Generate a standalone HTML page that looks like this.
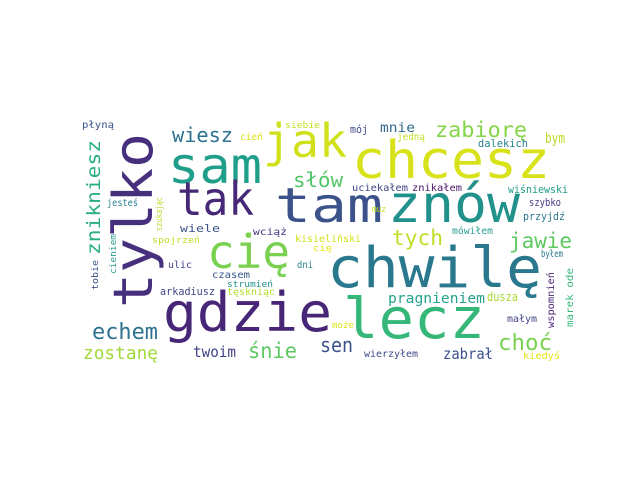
<!DOCTYPE html>
<html><head><meta charset="utf-8"><style>
html,body{margin:0;padding:0;background:#fff;width:640px;height:480px;overflow:hidden}
svg text{font-family:"DejaVu Sans Mono","Liberation Mono",monospace}
</style></head><body>
<svg width="640" height="480" viewBox="0 0 640 480" xmlns="http://www.w3.org/2000/svg">
<rect width="640" height="480" fill="#fff"/>
<text x="168" y="183" font-size="50" textLength="94" lengthAdjust="spacingAndGlyphs" fill="#1f9e89">sam</text>
<text x="263" y="157" font-size="46" textLength="84" lengthAdjust="spacingAndGlyphs" fill="#d0e11c">jak</text>
<text x="352" y="178" font-size="52" textLength="198" lengthAdjust="spacingAndGlyphs" fill="#d8e219">chcesz</text>
<text x="177" y="215" font-size="46" textLength="77" lengthAdjust="spacingAndGlyphs" fill="#472777">tak</text>
<text x="275" y="222" font-size="48" textLength="108" lengthAdjust="spacingAndGlyphs" fill="#3b528b">tam</text>
<text x="388" y="222" font-size="52" textLength="132" lengthAdjust="spacingAndGlyphs" fill="#21918c">znów</text>
<text x="327" y="287" font-size="56" textLength="215" lengthAdjust="spacingAndGlyphs" fill="#2a788e">chwilę</text>
<text x="207" y="268" font-size="46" textLength="83" lengthAdjust="spacingAndGlyphs" fill="#7ad151">cię</text>
<text x="163" y="331" font-size="54" textLength="169" lengthAdjust="spacingAndGlyphs" fill="#482677">gdzie</text>
<text x="343" y="338" font-size="56" textLength="142" lengthAdjust="spacingAndGlyphs" fill="#35b779">lecz</text>
<text x="172" y="142" font-size="20" textLength="61" lengthAdjust="spacingAndGlyphs" fill="#2c728e">wiesz</text>
<text x="435" y="137" font-size="21" textLength="92" lengthAdjust="spacingAndGlyphs" fill="#86d549">zabiorę</text>
<text x="293" y="187" font-size="20" textLength="50" lengthAdjust="spacingAndGlyphs" fill="#52c569">słów</text>
<text x="392" y="245" font-size="21" textLength="51" lengthAdjust="spacingAndGlyphs" fill="#bddf26">tych</text>
<text x="509" y="248" font-size="21" textLength="63" lengthAdjust="spacingAndGlyphs" fill="#5ec962">jawie</text>
<text x="92" y="339" font-size="22" textLength="66" lengthAdjust="spacingAndGlyphs" fill="#2c728e">echem</text>
<text x="83" y="359" font-size="18" textLength="75" lengthAdjust="spacingAndGlyphs" fill="#a0da39">zostanę</text>
<text x="248" y="358" font-size="21" textLength="49" lengthAdjust="spacingAndGlyphs" fill="#5ec962">śnie</text>
<text x="320" y="352" font-size="20" textLength="33" lengthAdjust="spacingAndGlyphs" fill="#3b528b">sen</text>
<text x="193" y="357" font-size="15" textLength="43" lengthAdjust="spacingAndGlyphs" fill="#414487">twoim</text>
<text x="498" y="350" font-size="22" textLength="54" lengthAdjust="spacingAndGlyphs" fill="#7ad151">choć</text>
<text x="443" y="359" font-size="15" textLength="50" lengthAdjust="spacingAndGlyphs" fill="#3b528b">zabrał</text>
<text x="388" y="303" font-size="14" textLength="97" lengthAdjust="spacingAndGlyphs" fill="#25a18e">pragnieniem</text>
<text x="487" y="301" font-size="12" textLength="31" lengthAdjust="spacingAndGlyphs" fill="#a8db34">dusza</text>
<text x="380" y="132" font-size="13" textLength="35" lengthAdjust="spacingAndGlyphs" fill="#31688e">mnie</text>
<text x="350" y="133" font-size="11" textLength="18" lengthAdjust="spacingAndGlyphs" fill="#3e4a89">mój</text>
<text x="397" y="140" font-size="10" textLength="28" lengthAdjust="spacingAndGlyphs" fill="#c2df23">jedną</text>
<text x="545" y="143" font-size="14" textLength="20" lengthAdjust="spacingAndGlyphs" fill="#bddf26">bym</text>
<text x="478" y="147" font-size="11" textLength="50" lengthAdjust="spacingAndGlyphs" fill="#26828e">dalekich</text>
<text x="508" y="193" font-size="11" textLength="60" lengthAdjust="spacingAndGlyphs" fill="#1f9e89">wiśniewski</text>
<text x="352" y="191" font-size="10" textLength="56" lengthAdjust="spacingAndGlyphs" fill="#414487">uciekałem</text>
<text x="412" y="191" font-size="10" textLength="50" lengthAdjust="spacingAndGlyphs" fill="#481467">znikałem</text>
<text x="529" y="206" font-size="11" textLength="32" lengthAdjust="spacingAndGlyphs" fill="#433e85">szybko</text>
<text x="523" y="220" font-size="11" textLength="42" lengthAdjust="spacingAndGlyphs" fill="#2a788e">przyjdź</text>
<text x="372" y="212" font-size="9" textLength="14" lengthAdjust="spacingAndGlyphs" fill="#c8e020">muz</text>
<text x="452" y="234" font-size="10" textLength="41" lengthAdjust="spacingAndGlyphs" fill="#2a9d8f">mówiłem</text>
<text x="295" y="242" font-size="10" textLength="66" lengthAdjust="spacingAndGlyphs" fill="#d2e21b">kisieliński</text>
<text x="313" y="251" font-size="9" textLength="19" lengthAdjust="spacingAndGlyphs" fill="#e2e418">cię</text>
<text x="541" y="257" font-size="10" textLength="22" lengthAdjust="spacingAndGlyphs" fill="#29798e">byłem</text>
<text x="507" y="322" font-size="10" textLength="30" lengthAdjust="spacingAndGlyphs" fill="#414487">małym</text>
<text x="523" y="359" font-size="10" textLength="37" lengthAdjust="spacingAndGlyphs" fill="#e5e419">kiedyś</text>
<text x="364" y="357" font-size="10" textLength="54" lengthAdjust="spacingAndGlyphs" fill="#3e4a89">wierzyłem</text>
<text x="332" y="328" font-size="9" textLength="22" lengthAdjust="spacingAndGlyphs" fill="#dde318">może</text>
<text x="82" y="128" font-size="10" textLength="32" lengthAdjust="spacingAndGlyphs" fill="#3b528b">płyną</text>
<text x="240" y="140" font-size="10" textLength="23" lengthAdjust="spacingAndGlyphs" fill="#d8e219">cień</text>
<text x="285" y="128" font-size="9" textLength="35" lengthAdjust="spacingAndGlyphs" fill="#c0df25">siebie</text>
<text x="107" y="206" font-size="10" textLength="31" lengthAdjust="spacingAndGlyphs" fill="#26828e">jesteś</text>
<text x="180" y="232" font-size="11" textLength="40" lengthAdjust="spacingAndGlyphs" fill="#3b528b">wiele</text>
<text x="152" y="243" font-size="9" textLength="48" lengthAdjust="spacingAndGlyphs" fill="#bddf26">spojrzeń</text>
<text x="253" y="235" font-size="10" textLength="34" lengthAdjust="spacingAndGlyphs" fill="#46327e">wciąż</text>
<text x="168" y="268" font-size="10" textLength="24" lengthAdjust="spacingAndGlyphs" fill="#414487">ulic</text>
<text x="297" y="268" font-size="10" textLength="16" lengthAdjust="spacingAndGlyphs" fill="#25848e">dni</text>
<text x="212" y="278" font-size="10" textLength="38" lengthAdjust="spacingAndGlyphs" fill="#38588c">czasem</text>
<text x="227" y="287" font-size="9" textLength="46" lengthAdjust="spacingAndGlyphs" fill="#21918c">strumień</text>
<text x="160" y="295" font-size="11" textLength="55" lengthAdjust="spacingAndGlyphs" fill="#414487">arkadiusz</text>
<text x="227" y="295" font-size="10" textLength="48" lengthAdjust="spacingAndGlyphs" fill="#b5de2b">tęskniąc</text>
<text transform="translate(152,308) rotate(-90)" font-size="54" textLength="175" lengthAdjust="spacingAndGlyphs" fill="#46307e">tylko</text>
<text transform="translate(100,255) rotate(-90)" font-size="19" textLength="115" lengthAdjust="spacingAndGlyphs" fill="#29af7f">znikniesz</text>
<text transform="translate(162,231) rotate(-90)" font-size="9" textLength="34" lengthAdjust="spacingAndGlyphs" fill="#b5de2b">szukając</text>
<text transform="translate(116,274) rotate(-90)" font-size="9" textLength="40" lengthAdjust="spacingAndGlyphs" fill="#2a9d8f">cieniem</text>
<text transform="translate(98,290) rotate(-90)" font-size="9" textLength="30" lengthAdjust="spacingAndGlyphs" fill="#3b528b">tobie</text>
<text transform="translate(554,328) rotate(-90)" font-size="10" textLength="56" lengthAdjust="spacingAndGlyphs" fill="#482878">wspomnień</text>
<text transform="translate(573,327) rotate(-90)" font-size="10" textLength="59" lengthAdjust="spacingAndGlyphs" fill="#35b779">marek ode</text>
<circle cx="279" cy="126" r="2" fill="#c8e020"/>
<circle cx="248" cy="235" r="2.5" fill="#7ad151"/>
</svg>
</body></html>
